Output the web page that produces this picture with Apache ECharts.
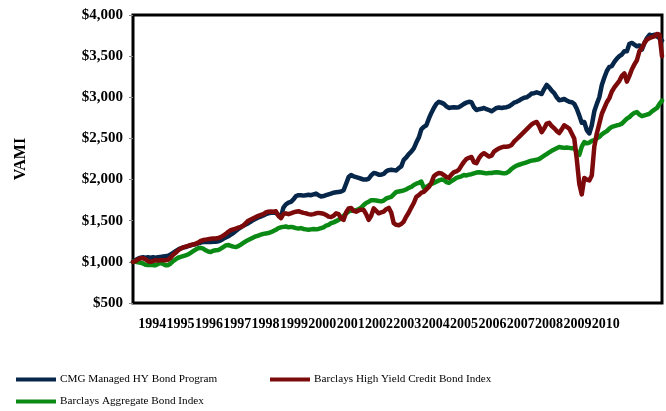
<!DOCTYPE html>
<html>
<head>
<meta charset="utf-8">
<script src="https://cdn.jsdelivr.net/npm/echarts@6/dist/echarts.min.js"></script>
<style>
  html, body { margin: 0; padding: 0; background: #fff; }
  #chart { width: 666px; height: 411px; }
</style>
</head>
<body>
<div id="chart"></div>
<script>
// Monthly growth of $1,000 (VAMI), Jan 1994 – Aug 2011
const yearLabels = ['1994','1995','1996','1997','1998','1999','2000','2001','2002',
  '2003','2004','2005','2006','2007','2008','2009','2010'];

const cmgProgram = [
  1000,1020,1040,1050,1055,1050,1055,1050,1055,1050,1055,1060,
  1065,1070,1075,1090,1110,1130,1150,1165,1175,1180,1190,1200,
  1210,1215,1225,1235,1240,1240,1245,1240,1245,1245,1250,1260,
  1280,1295,1310,1330,1350,1375,1400,1420,1440,1455,1470,1490,
  1510,1525,1540,1550,1565,1580,1590,1595,1600,1595,1570,1545,
  1660,1700,1720,1730,1760,1800,1810,1810,1805,1810,1815,1810,
  1820,1830,1810,1795,1800,1810,1820,1830,1840,1845,1850,1855,
  1870,1950,2030,2055,2040,2030,2020,2010,2000,2000,2010,2050,
  2080,2075,2060,2060,2070,2100,2115,2120,2115,2110,2140,2160,
  2240,2270,2310,2340,2380,2450,2510,2610,2640,2660,2740,2810,
  2870,2920,2945,2935,2920,2890,2870,2875,2880,2875,2880,2900,
  2920,2935,2945,2940,2880,2845,2855,2860,2870,2855,2845,2830,
  2850,2870,2875,2870,2875,2880,2890,2910,2935,2945,2960,2980,
  2995,3000,3020,3045,3050,3060,3050,3040,3100,3150,3120,3080,
  3050,3000,2965,2970,2980,2960,2945,2940,2920,2860,2780,2690,
  2700,2600,2560,2660,2830,2920,3000,3150,3240,3320,3370,3380,
  3430,3470,3500,3520,3560,3560,3650,3660,3640,3620,3630,3580,
  3660,3720,3760,3750,3760,3740,3720,3690
];

const highYieldIndex = [
  1000,1010,1030,1045,1045,1030,1010,1000,1010,1020,1015,1020,
  1020,1020,1025,1050,1085,1110,1140,1160,1175,1185,1195,1205,
  1210,1220,1235,1255,1265,1270,1275,1280,1285,1285,1290,1300,
  1320,1340,1365,1385,1395,1405,1415,1425,1440,1470,1500,1515,
  1530,1545,1560,1570,1580,1600,1610,1612,1610,1615,1560,1530,
  1580,1590,1580,1590,1600,1610,1615,1605,1595,1590,1580,1575,
  1580,1590,1595,1590,1585,1570,1550,1545,1560,1590,1580,1530,
  1510,1600,1650,1655,1620,1610,1625,1635,1630,1580,1510,1560,
  1650,1620,1590,1600,1610,1640,1655,1600,1470,1450,1445,1460,
  1490,1550,1600,1660,1715,1790,1810,1840,1850,1880,1910,1960,
  2040,2065,2080,2075,2055,2030,2020,2060,2090,2100,2120,2170,
  2215,2250,2265,2275,2210,2200,2260,2300,2320,2300,2280,2290,
  2340,2360,2380,2390,2400,2400,2405,2420,2460,2490,2520,2550,
  2580,2610,2640,2670,2690,2700,2650,2575,2620,2680,2690,2650,
  2625,2590,2565,2610,2660,2640,2620,2560,2500,2250,1950,1820,
  2020,2000,1990,2050,2400,2560,2680,2800,2870,2940,2990,3070,
  3120,3160,3200,3260,3290,3190,3260,3340,3400,3450,3560,3600,
  3660,3700,3720,3730,3740,3770,3760,3500
];

const aggregateIndex = [
  1000,1000,995,990,980,965,960,965,960,960,975,985,
  975,960,960,980,1010,1030,1050,1060,1070,1080,1090,1110,
  1130,1150,1165,1170,1160,1140,1125,1120,1135,1140,1145,1160,
  1180,1200,1205,1195,1185,1180,1190,1210,1230,1250,1265,1280,
  1295,1310,1320,1330,1340,1345,1350,1360,1375,1390,1410,1420,
  1425,1430,1420,1425,1420,1410,1405,1410,1400,1395,1390,1395,
  1400,1395,1400,1410,1420,1440,1450,1470,1480,1495,1510,1530,
  1560,1590,1610,1630,1620,1630,1640,1660,1690,1715,1730,1750,
  1750,1745,1740,1735,1745,1770,1780,1790,1820,1850,1855,1860,
  1870,1880,1900,1910,1935,1950,1960,1975,1900,1910,1930,1945,
  1960,1975,1990,2000,1995,1970,1960,1980,2000,2020,2030,2040,
  2055,2050,2060,2065,2075,2085,2090,2085,2080,2075,2080,2080,
  2085,2090,2085,2080,2075,2080,2100,2130,2150,2170,2180,2190,
  2200,2210,2220,2230,2235,2240,2250,2270,2290,2310,2330,2350,
  2365,2380,2395,2390,2385,2390,2385,2380,2385,2330,2300,2400,
  2455,2440,2450,2470,2480,2500,2520,2550,2570,2590,2620,2640,
  2650,2660,2665,2680,2710,2740,2760,2790,2810,2820,2790,2770,
  2780,2790,2800,2830,2850,2870,2920,2960
];

// Month categories for the plotted series
const months = [];
for (let y = 1994; months.length < cmgProgram.length; y++) {
  for (let m = 1; m <= 12 && months.length < cmgProgram.length; m++) {
    months.push(y + '-' + String(m).padStart(2, '0'));
  }
}

const serif = '"Liberation Serif", "Times New Roman", serif';
const NAVY = '#06264a';
const MAROON = '#7d0a0a';
const GREEN = '#0a8a14';

const chart = echarts.init(document.getElementById('chart'), null, { renderer: 'canvas' });

const lineSeries = (name, data, color) => ({
  name, type: 'line', data,
  xAxisIndex: 0, yAxisIndex: 0,
  showSymbol: false, symbol: 'none',
  lineStyle: { color, width: 4.5, join: 'round', cap: 'round' },
  itemStyle: { color },
  emphasis: { disabled: true },
  animation: false
});

const legendBase = {
  orient: 'horizontal',
  icon: 'rect',
  itemWidth: 40,
  itemHeight: 4,
  itemGap: 4,
  padding: 0,
  textStyle: { fontFamily: serif, fontSize: 11.2, color: '#000', padding: [0, 0, 0, -1] },
  selectedMode: false
};

chart.setOption({
  backgroundColor: '#fff',
  animation: false,
  grid: [
    { left: 133, right: 4, top: 15, bottom: 108, show: true,
      borderColor: '#000', borderWidth: 3, backgroundColor: 'transparent' },
    { left: 138, width: 482, top: 15, bottom: 108, show: false }
  ],
  xAxis: [
    { type: 'category', gridIndex: 0, data: months, boundaryGap: false,
      axisLine: { show: false }, axisTick: { show: false },
      axisLabel: { show: false }, splitLine: { show: false } },
    { type: 'category', gridIndex: 1, data: yearLabels, boundaryGap: true,
      axisLine: { show: false }, axisTick: { show: false },
      axisLabel: { fontFamily: serif, fontWeight: 'bold', fontSize: 14,
        color: '#000', margin: 14, interval: 0 },
      splitLine: { show: false } }
  ],
  yAxis: [
    { type: 'value', gridIndex: 0, min: 500, max: 4000, interval: 500,
      name: 'VAMI', nameLocation: 'middle', nameGap: 104, nameRotate: 90,
      nameTextStyle: { fontFamily: serif, fontWeight: 'bold', fontSize: 16, color: '#000' },
      axisLine: { show: false },
      axisTick: { show: true, inside: false, length: 4, lineStyle: { color: '#888', width: 1 } },
      axisLabel: { fontFamily: serif, fontWeight: 'bold', fontSize: 15, color: '#000', margin: 10,
        formatter: v => '$' + v.toLocaleString('en-US') },
      splitLine: { show: false } },
    { type: 'value', gridIndex: 1, show: false, min: 0, max: 1 }
  ],
  legend: [
    Object.assign({}, legendBase, { left: 16, top: 374, data: ['CMG Managed HY Bond Program'] }),
    Object.assign({}, legendBase, { left: 270, top: 374, data: ['Barclays High Yield Credit Bond Index'] }),
    Object.assign({}, legendBase, { left: 16, top: 396, data: ['Barclays Aggregate Bond Index'] })
  ],
  series: [
    lineSeries('CMG Managed HY Bond Program', cmgProgram, NAVY),
    lineSeries('Barclays Aggregate Bond Index', aggregateIndex, GREEN),
    lineSeries('Barclays High Yield Credit Bond Index', highYieldIndex, MAROON)
  ]
});
</script>
</body>
</html>
